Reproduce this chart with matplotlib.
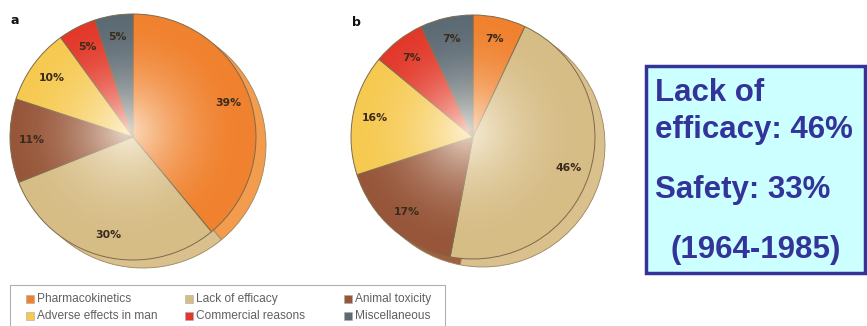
import numpy as np
import matplotlib.pyplot as plt
from matplotlib.patches import Circle, Rectangle

# reasons for drug attrition, clockwise from 12 o'clock
reasons = ['Pharmacokinetics', 'Lack of efficacy', 'Animal toxicity',
           'Adverse effects in man', 'Commercial reasons', 'Miscellaneous']
share_a = [39, 30, 11, 10, 5, 5]
share_b = [7, 46, 17, 16, 7, 7]
colors = ['#F0812E', '#D6BC85', '#97563A', '#F6C950', '#E2382A', '#5C6A74']
shadow_colors = ['#F39C4E', '#D9C08C', '#A0603F', '#F6CF66', '#E44A38', '#6C7A84']

W, H = 867, 326
fig = plt.figure(figsize=(W / 100, H / 100), dpi=100)
ax = fig.add_axes([0, 0, 1, 1])
ax.set_xlim(0, W)
ax.set_ylim(0, H)
ax.set_aspect('equal')
ax.axis('off')


def draw_pie(cx, cy, r, values, tag):
    # offset copy gives the thick-disc look
    ax.pie(values, colors=shadow_colors, startangle=90, counterclock=False,
           center=(cx + 10, cy - 8), radius=r, frame=True,
           wedgeprops=dict(edgecolor='#9a8560', linewidth=0.6))
    wedges, texts, autotexts = ax.pie(
        values, colors=colors, startangle=90, counterclock=False,
        center=(cx, cy), radius=r, frame=True,
        autopct='%d%%', pctdistance=0.82,
        wedgeprops=dict(edgecolor='#7d6a4c', linewidth=0.7),
        textprops=dict(fontsize=7.8, fontweight='bold', color='#3a2c1c'))
    for t in texts:
        t.set_visible(False)
    # soft pale glow toward the centre
    n = 300
    yy, xx = np.mgrid[-1:1:n * 1j, -1:1:n * 1j]
    rr = np.sqrt((xx + 0.05) ** 2 + (yy - 0.05) ** 2)
    alpha = np.clip(1 - rr, 0, 1) ** 2.0 * 0.8
    img = np.ones((n, n, 4))
    img[..., :3] = [1.0, 0.98, 0.93]
    img[..., 3] = alpha
    im = ax.imshow(img, extent=(cx - r, cx + r, cy - r, cy + r),
                   origin='lower', zorder=2, interpolation='bilinear')
    im.set_clip_path(Circle((cx, cy), r, transform=ax.transData))
    for t in autotexts:
        t.set_zorder(3)
    ax.text(cx - r + 5, cy + r - 7, tag, fontsize=9, fontweight='bold',
            ha='center', va='center', color='#111111')
    ax.set_xlim(0, W)
    ax.set_ylim(0, H)


draw_pie(133, H - 137, 123, share_a, 'a')
draw_pie(473, H - 137, 122, share_b, 'b')

# key below the pies
ax.add_patch(Rectangle((10, -5), 435, H - 285 + 5, facecolor='white',
                       edgecolor='#b0b0b0', linewidth=0.8, zorder=4))
col_x = [26, 185, 344]
row_y = [H - 299, H - 316]
for k, name in enumerate(reasons):
    x = col_x[k % 3]
    y = row_y[k // 3]
    ax.add_patch(Rectangle((x, y - 4), 8, 8, facecolor=colors[k],
                           edgecolor='#aaaaaa', linewidth=0.4, zorder=5))
    ax.text(x + 11, y, name, fontsize=8.6, color='#606060',
            family='Liberation Sans', va='center', ha='left', zorder=5)

# summary box
ax.add_patch(Rectangle((646, H - 273), 219, 207, facecolor='#CCFFFF',
                       edgecolor='#333399', linewidth=2.5, zorder=4))
box_txt = dict(fontsize=22.5, fontweight='bold', color='#333399',
               family='Liberation Sans', va='center', ha='left', zorder=5)
ax.text(655, H - 93, 'Lack of', **box_txt)
ax.text(655, H - 130, 'efficacy: 46%', **box_txt)
ax.text(655, H - 190, 'Safety: 33%', **box_txt)
ax.text(671, H - 250, '(1964-1985)', **box_txt)

fig.savefig('out.png', dpi=100)
